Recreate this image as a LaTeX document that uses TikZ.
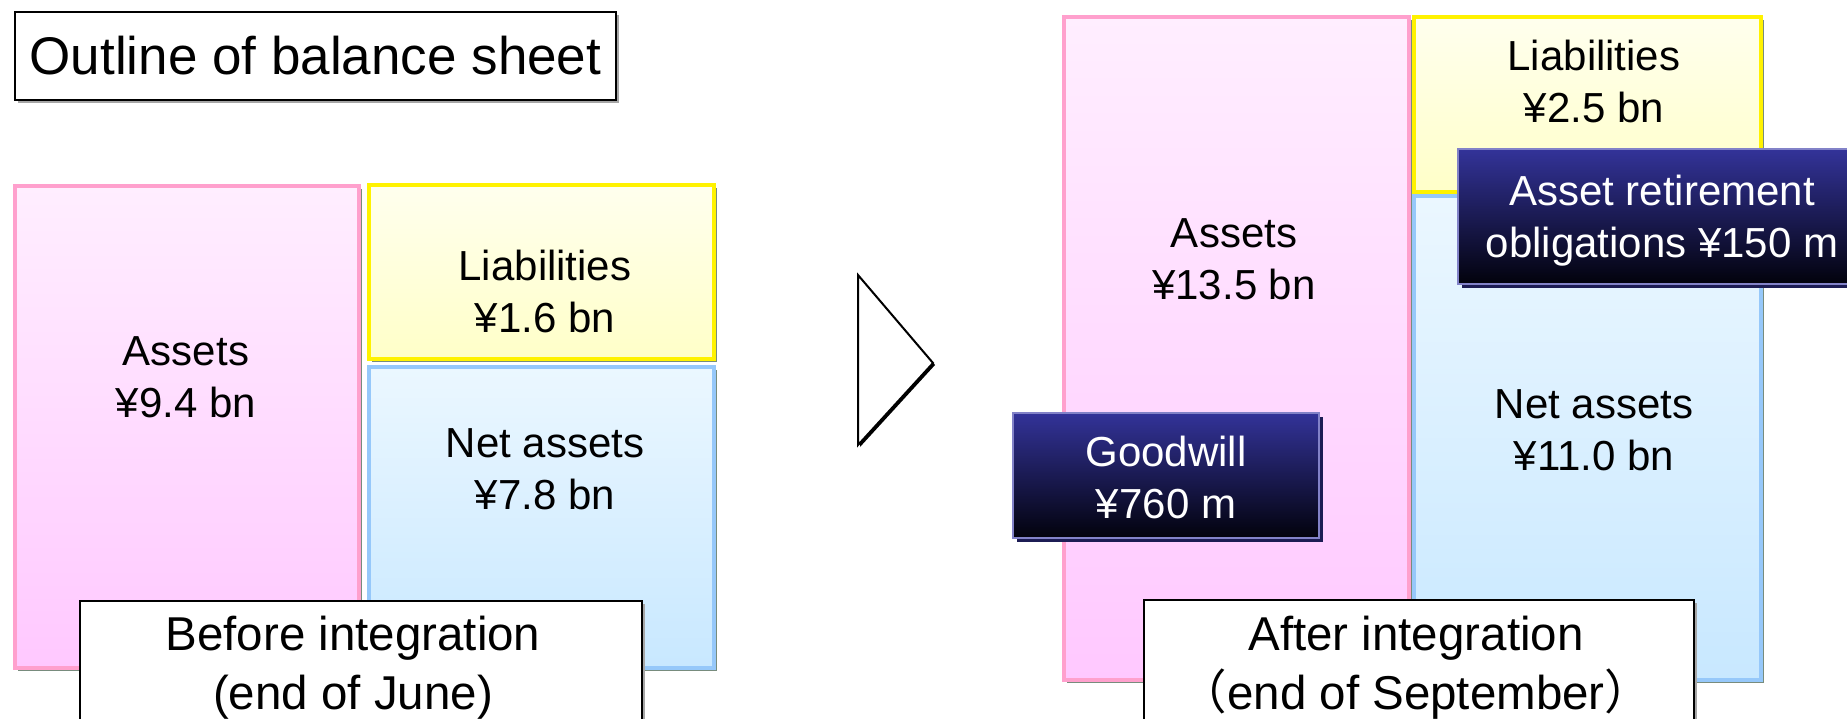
\documentclass[tikz,border=0pt]{standalone}
\usepackage{fontspec}
\setmainfont{Liberation Sans}
\newfontfamily\cjk{Noto Sans CJK JP}
\usepackage{xcolor}
\usetikzlibrary{shadows}

\definecolor{pinkline}{RGB}{255,160,205}
\definecolor{pinktop}{RGB}{255,238,255}
\definecolor{pinkbot}{RGB}{255,200,255}
\definecolor{yellowtop}{RGB}{255,255,238}
\definecolor{yellowbot}{RGB}{255,255,200}
\definecolor{bluetop}{RGB}{235,247,255}
\definecolor{bluebot}{RGB}{200,232,255}
\definecolor{blueline}{RGB}{150,200,250}
\definecolor{navytop}{RGB}{51,51,153}
\definecolor{navybot}{RGB}{2,2,12}
\definecolor{navyline}{RGB}{130,130,200}
\definecolor{boxshade}{RGB}{120,140,125}

\begin{document}
\begin{tikzpicture}[x=1pt,y=-1pt,
  every node/.style={inner sep=0pt,outer sep=0pt},
  body/.style={font=\fontsize{42}{52}\selectfont,align=center},
  big/.style={font=\fontsize{47.5}{59}\selectfont,align=center},
  sheet/.style={draw,line width=4pt,
    drop shadow={shadow xshift=3pt,shadow yshift=-3pt,fill=boxshade,opacity=1}},
  assetbox/.style={sheet,draw=pinkline,top color=pinktop,bottom color=pinkbot},
  liabbox/.style={sheet,draw=yellow,top color=yellowtop,bottom color=yellowbot},
  netbox/.style={sheet,draw=blueline,top color=bluetop,bottom color=bluebot},
  tag/.style={draw=navyline,line width=2pt,top color=navytop,bottom color=navybot,
    drop shadow={shadow xshift=4pt,shadow yshift=-4pt,fill=navytop!55!black,opacity=1}},
  tagtext/.style={body,text=white},
  caption/.style={draw,fill=white,line width=2pt,
    drop shadow={shadow xshift=3pt,shadow yshift=-3pt,fill=gray!70,opacity=1}}]

  \clip (0,0) rectangle (1847,718);
  \fill[white] (0,0) rectangle (1847,718);

  \node[caption,minimum width=601,minimum height=88,font=\fontsize{53}{60}\selectfont]
    (title) at (315.5,56) {Outline of balance sheet};

  % before integration
  \node[assetbox,minimum width=344,minimum height=482] (as1) at (187,427) {};
  \node[liabbox,minimum width=345,minimum height=174] (li1) at (541.5,272) {};
  \node[netbox,minimum width=345,minimum height=301] (na1) at (541.5,517.5) {};
  \node[body] (as1txt) at (186,377) {Assets\\¥9.4 bn};
  \node[body] (li1txt) at (545,291) {Liabilities\\¥1.6 bn};
  \node[body] (na1txt) at (545,469) {Net assets\\¥7.8 bn};
  \node[caption,minimum width=562,minimum height=160] (before) at (361,681) {};
  \node[big] (beforetxt) at (353,668) {Before integration\\(end of June)};

  \draw[fill=white,line width=2pt,
    drop shadow={shadow xshift=2pt,shadow yshift=-2pt,fill=black,opacity=1}]
    (858,275) -- (933,363) -- (858,445) -- cycle;

  % after integration
  \node[assetbox,minimum width=345,minimum height=663] (as2) at (1236.5,348.5) {};
  \node[liabbox,minimum width=347,minimum height=175] (li2) at (1587.5,104.5) {};
  \node[netbox,minimum width=347,minimum height=484] (na2) at (1587.5,438) {};
  \node[body] (as2txt) at (1234,259) {Assets\\¥13.5 bn};
  \node[body] (li2txt) at (1594,81) {Liabilities\\¥2.5 bn};
  \node[body] (na2txt) at (1594,430) {Net assets\\¥11.0 bn};
  \node[tag,minimum width=394,minimum height=135] (aro) at (1655,216.5) {};
  \node[tagtext] (arotxt) at (1662,221) {Asset retirement\\obligations ¥150 m};
  \node[tag,minimum width=306,minimum height=125] (gw) at (1166,475.5) {};
  \node[tagtext] (gwtxt) at (1166,477) {Goodwill\\¥760 m};
  \node[caption,minimum width=550,minimum height=160] (after) at (1419,680) {};
  \node[big] (aftertxt) at (1416,668) {After integration\\{\cjk （}end of September{\cjk ）}};
\end{tikzpicture}
\end{document}
